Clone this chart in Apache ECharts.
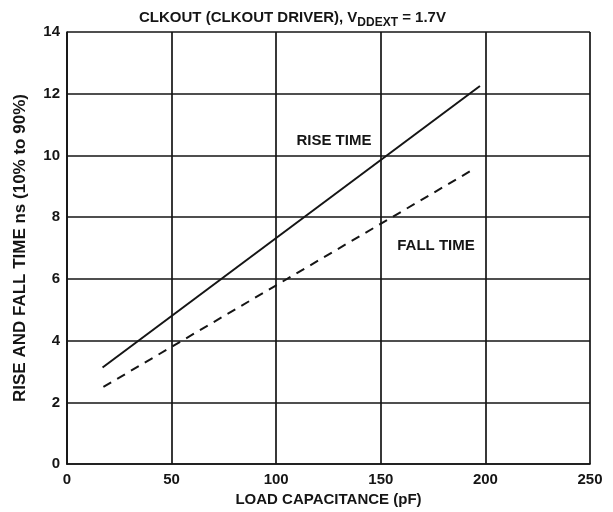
<!DOCTYPE html>
<html>
<head>
<meta charset="utf-8">
<script src="https://cdn.jsdelivr.net/npm/echarts@6/dist/echarts.min.js"></script>
<style>
  html, body { margin: 0; padding: 0; background: #fff; }
  #chart { width: 613px; height: 512px; }
</style>
</head>
<body>
<div id="chart"></div>
<script>
// Load capacitance (pF) vs. rise/fall time (ns)
const riseTime = [[17, 3.13], [197.4, 12.25]];
const fallTime = [[17.4, 2.5], [195, 9.58]];
const xTicks = [0, 50, 100, 150, 200, 250];
const yTicks = [0, 2, 4, 6, 8, 10, 12, 14];
const riseLabelAt = [127.6, 10.46];
const fallLabelAt = [176.4, 7.07];

const FONT = '"Liberation Sans", Arial, Helvetica, sans-serif';
const INK = '#151515';

const chart = echarts.init(document.getElementById('chart'));
chart.setOption({
  animation: false,
  backgroundColor: '#fff',
  title: {
    text: '{a|CLKOUT (CLKOUT DRIVER), V}{s|DDEXT}{a| = 1.7V}',
    left: 134,
    top: 2,
    textStyle: {
      rich: {
        a: { fontFamily: FONT, fontWeight: 'bold', fontSize: 15, color: INK, lineHeight: 22, verticalAlign: 'middle' },
        s: { fontFamily: FONT, fontWeight: 'bold', fontSize: 12, color: INK, lineHeight: 22, verticalAlign: 'bottom', padding: [10, 0, 0, 0] }
      }
    }
  },
  grid: { left: 67, right: 23, top: 32, bottom: 45, containLabel: false },
  xAxis: {
    type: 'value',
    min: xTicks[0],
    max: xTicks[xTicks.length - 1],
    interval: 50,
    name: 'LOAD CAPACITANCE (pF)',
    nameLocation: 'middle',
    nameGap: 22,
    nameTextStyle: { fontFamily: FONT, fontWeight: 'bold', fontSize: 15, color: INK },
    axisLine: { show: true, lineStyle: { color: INK, width: 1.7 } },
    axisTick: { show: false },
    axisLabel: { fontFamily: FONT, fontWeight: 'bold', fontSize: 15, color: INK, margin: 8 },
    splitLine: { show: true, lineStyle: { color: INK, width: 1.7 } }
  },
  yAxis: {
    type: 'value',
    min: yTicks[0],
    max: yTicks[yTicks.length - 1],
    interval: 2,
    name: 'RISE AND FALL TIME ns (10% to 90%)',
    nameLocation: 'middle',
    nameGap: 38,
    nameRotate: 90,
    nameTextStyle: { fontFamily: FONT, fontWeight: 'bold', fontSize: 17, color: INK },
    axisLine: { show: true, lineStyle: { color: INK, width: 1.7 } },
    axisTick: { show: false },
    axisLabel: { fontFamily: FONT, fontWeight: 'bold', fontSize: 15, color: INK, margin: 7 },
    splitLine: { show: true, lineStyle: { color: INK, width: 1.7 } }
  },
  series: [
    {
      name: 'RISE TIME',
      type: 'line',
      data: riseTime,
      showSymbol: false,
      lineStyle: { color: INK, width: 2, type: 'solid' },
      markPoint: {
        symbol: 'circle', symbolSize: 0,
        label: { show: true, formatter: 'RISE TIME', fontFamily: FONT, fontWeight: 'bold', fontSize: 15, color: INK },
        data: [{ coord: riseLabelAt }]
      }
    },
    {
      name: 'FALL TIME',
      type: 'line',
      data: fallTime,
      showSymbol: false,
      lineStyle: { color: INK, width: 2, type: [9, 7] },
      markPoint: {
        symbol: 'circle', symbolSize: 0,
        label: { show: true, formatter: 'FALL TIME', fontFamily: FONT, fontWeight: 'bold', fontSize: 15, color: INK },
        data: [{ coord: fallLabelAt }]
      }
    }
  ]
});
</script>
</body>
</html>
